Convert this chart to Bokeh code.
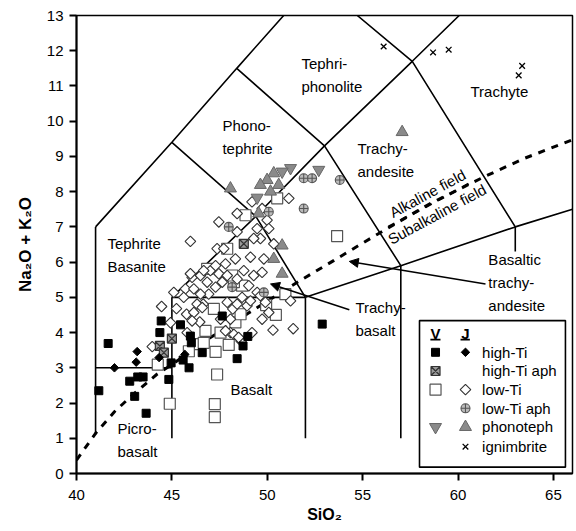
import math
from bokeh.plotting import figure
from bokeh.models import Arrow, NormalHead, Range1d, FixedTicker
from bokeh.core.properties import value
from bokeh.embed import file_html
from bokeh.resources import INLINE

FONT = "Liberation Sans"
DIA = math.pi / 4  # squares turned 45 degrees give the equal-sided diamonds of the original

# ---------------- TAS field boundaries (SiO2, Na2O+K2O) ----------------
tas_xs = [
    [41, 41], [41, 45], [45, 45], [45, 52], [52, 52],
    [52, 57, 63, 66], [57, 57], [63, 63],
    [41, 45, 48.4, 50.86], [45, 49.4, 52],
    [45, 49.4, 53, 57.6, 60.06], [48.4, 53, 57], [54.72, 57.6, 63],
]
tas_ys = [
    [1.1, 7], [3, 3], [1.0, 5], [5, 5], [1.0, 5],
    [5, 5.9, 7, 7.5], [1.0, 5.9], [6.3, 7],
    [7, 9.4, 11.5, 13], [9.4, 7.3, 5],
    [5, 7.3, 9.3, 11.7, 13], [11.5, 9.3, 5.9], [13, 11.7, 7],
]

# Alkaline / subalkaline divide
div_x = [40.0, 41.0, 42.0, 43.0, 44.2, 45.0, 47.0, 49.0, 51.7, 53.5, 55.8, 58.5, 61.4, 63.5, 66.0]
div_y = [0.38, 1.14, 1.76, 2.26, 2.81, 3.09, 3.85, 4.55, 5.47, 6.05, 6.8, 7.65, 8.43, 8.95, 9.47]

# ---------------- samples ----------------
v_hiti_x = [41.66, 41.17, 42.79, 43.21, 43.49, 43.05, 43.65, 44.37, 44.44, 44.84, 44.96, 45.45,
            45.59, 45.90, 45.97, 46.02, 46.59, 47.64, 48.73, 48.42, 48.98, 52.88]
v_hiti_y = [3.69, 2.35, 2.62, 2.74, 2.74, 2.19, 1.71, 4.00, 4.33, 2.67, 3.14, 4.22,
            3.22, 3.00, 3.90, 3.71, 3.43, 4.47, 3.62, 3.26, 3.89, 4.24]

j_hiti_x = [41.99, 43.18, 43.13, 44.33, 45.68]
j_hiti_y = [3.00, 3.46, 3.16, 3.29, 3.38]

v_hiti_aph_x = [44.37, 44.58, 45.00, 48.77]
v_hiti_aph_y = [3.62, 3.43, 3.83, 6.52]

v_loti_x = [44.26, 44.89, 47.37, 47.25, 47.25, 46.76, 47.29, 47.20, 47.55, 47.98, 48.33, 48.60,
            49.94, 50.45, 46.38, 45.89, 48.68, 48.25, 50.95, 53.66, 50.52, 48.86, 47.90, 46.85,
            48.16, 46.67]
v_loti_y = [3.09, 1.98, 2.81, 1.97, 1.60, 4.05, 3.45, 4.67, 4.00, 3.65, 4.29, 4.52,
            4.78, 4.50, 3.67, 3.47, 5.33, 5.43, 5.09, 6.74, 7.81, 7.33, 6.38, 5.81,
            5.62, 3.71]

j_loti_x = [43.97, 44.46, 44.93, 45.24, 45.77, 46.15, 46.46, 46.64, 47.55, 48.07, 48.19, 48.42,
            48.63, 48.94, 49.20, 49.73, 50.30, 51.22, 51.36, 45.80,
            45.10, 45.71, 45.62, 46.15, 46.06, 46.50, 47.02, 47.29, 46.93, 46.50, 46.06, 46.32,
            47.64, 47.46, 47.90, 48.42, 47.90, 48.07, 47.81, 48.25, 48.68, 48.50, 48.77, 49.03,
            49.47, 49.12, 49.64, 50.08, 49.90, 49.73, 49.29, 46.85, 46.59,
            49.20, 51.13, 48.42, 47.46, 45.97, 49.73, 49.99, 49.47, 49.64, 50.34, 49.12, 47.37,
            48.42, 49.82, 48.33, 47.72, 47.81, 47.29, 46.67, 45.97, 49.29, 50.08]
j_loti_y = [3.60, 4.74, 4.28, 4.68, 4.52, 4.57, 4.30, 4.81, 4.38, 4.00, 4.67, 4.81,
            3.76, 4.76, 4.00, 4.38, 4.07, 4.90, 4.11, 4.00,
            5.14, 5.24, 5.00, 5.24, 5.57, 5.62, 5.76, 5.29, 5.09, 5.09, 4.33, 4.81,
            5.43, 5.67, 5.62, 5.52, 4.86, 4.38, 4.05, 3.95, 5.00, 3.86, 5.76, 5.33,
            5.14, 4.90, 5.05, 4.57, 4.86, 5.71, 5.62, 5.43, 4.71,
            7.71, 7.81, 7.38, 7.14, 6.59, 7.52, 7.19, 6.95, 6.67, 6.52, 6.14, 6.38,
            6.86, 6.09, 6.09, 6.38, 5.95, 5.90, 5.76, 5.67, 6.67, 6.95]

j_loti_aph_x = [51.91, 52.35, 51.91, 47.98, 50.08, 53.80, 48.16, 49.82]
j_loti_aph_y = [8.38, 8.38, 7.52, 7.00, 7.43, 8.33, 5.29, 5.14]

v_phono_x = [51.22, 50.78, 49.47, 52.70]
v_phono_y = [8.67, 8.57, 7.83, 8.62]

j_phono_x = [48.07, 50.34, 49.99, 49.64, 50.17, 50.60, 49.55, 50.78, 50.34, 50.78, 57.07]
j_phono_y = [8.09, 8.52, 8.33, 8.19, 8.00, 8.19, 7.38, 6.47, 6.09, 5.67, 9.69]

ign_x = [56.10, 58.69, 59.51, 63.36, 63.18]
ign_y = [12.12, 11.95, 12.03, 11.57, 11.30]

# ---------------- field names ----------------
field_names = ["Tephri-\nphonolite", "Trachyte", "Phono-\ntephrite", "Trachy-\nandesite",
               "Tephrite\nBasanite", "Basalt", "Picro-\nbasalt", "Trachy-\nbasalt",
               "Basaltic\ntrachy-\nandesite"]
field_x = [51.79, 60.65, 47.65, 54.73, 41.62, 48.07, 42.15, 54.62, 61.59]
field_y = [11.32, 10.84, 9.55, 8.90, 6.21, 2.38, 0.95, 4.38, 5.41]

legend_labels = ["high-Ti", "high-Ti aph", "low-Ti", "low-Ti aph", "phonoteph", "ignimbrite"]

# ---------------- figure ----------------
p = figure(width=576, height=531, x_range=Range1d(40, 66), y_range=Range1d(0, 13),
           output_backend="svg", toolbar_location=None,
           min_border_left=76, min_border_right=4, min_border_top=15, min_border_bottom=58)
p.grid.visible = False
p.background_fill_color = "white"
p.border_fill_color = "white"
p.outline_line_color = "black"
p.outline_line_width = 1.5

p.xaxis.ticker = FixedTicker(ticks=[40, 45, 50, 55, 60, 65])
p.yaxis.ticker = FixedTicker(ticks=list(range(0, 14)))
for ax in (p.xaxis[0], p.yaxis[0]):
    ax.major_tick_in = 0
    ax.major_tick_out = 7
    ax.minor_tick_in = 0
    ax.minor_tick_out = 0
    ax.axis_line_width = 2
    ax.axis_line_color = "black"
    ax.major_tick_line_width = 2
    ax.major_tick_line_color = "black"
    ax.major_label_text_font = FONT
    ax.major_label_text_font_size = "15px"
    ax.major_label_text_color = "black"
    ax.axis_label_text_font = FONT
    ax.axis_label_text_font_style = "bold"
    ax.axis_label_text_color = "black"
p.xaxis[0].major_label_standoff = 9
p.yaxis[0].major_label_standoff = 6
p.xaxis[0].axis_label = "SiO₂"
p.xaxis[0].axis_label_text_font_size = "16px"
p.xaxis[0].axis_label_standoff = 3
p.yaxis[0].axis_label = "Na₂O + K₂O"
p.yaxis[0].axis_label_text_font_size = "17px"
p.yaxis[0].axis_label_standoff = 9

# boundaries
p.multi_line(tas_xs, tas_ys, line_color="black", line_width=1.6)
p.line(div_x, div_y, line_color="black", line_width=3, line_dash="7 7")

# alkaline / subalkaline labels
ang = math.radians(28.5)
p.text(x=[58.40], y=[7.95], text=["Alkaline field"], angle=ang, text_font=value(FONT),
       text_font_size="15px", text_align="center", text_baseline="middle", text_color="black")
p.text(x=[58.90], y=[7.36], text=["Subalkaline field"], angle=ang, text_font=value(FONT),
       text_font_size="15px", text_align="center", text_baseline="middle", text_color="black")
p.line([56.35, 60.8], [7.0, 8.29], line_color="black", line_width=2.5, line_dash="7 7")

# field names
p.text(x=field_x, y=field_y, text=field_names, text_font=value(FONT), text_font_size="15px",
       text_align="left", text_baseline="middle", text_line_height=1.35, text_color="black")

# arrows
p.add_layout(Arrow(end=NormalHead(size=9, fill_color="black", line_color="black"),
                   x_start=61.44, y_start=5.38, x_end=54.30, y_end=6.02,
                   line_color="black", line_width=1.5))
p.add_layout(Arrow(end=NormalHead(size=9, fill_color="black", line_color="black"),
                   x_start=54.30, y_start=4.65, x_end=50.17, y_end=5.38,
                   line_color="black", line_width=1.5))

# samples
p.scatter(v_loti_x, v_loti_y, marker="square", size=11, fill_color="white", line_color="#555555", line_width=1.2)
p.scatter(j_loti_x, j_loti_y, marker="square", angle=DIA, size=7.5, fill_color="white", line_color="#333333", line_width=1.1)
p.scatter(j_loti_aph_x, j_loti_aph_y, marker="circle_cross", size=9, fill_color="#bbbbbb", line_color="#555555", line_width=1.1)
p.scatter(v_hiti_aph_x, v_hiti_aph_y, marker="square_x", size=9, fill_color="#999999", line_color="#333333", line_width=1.2)
p.scatter(v_hiti_x, v_hiti_y, marker="square", size=8, fill_color="black", line_color="black")
p.scatter(j_hiti_x, j_hiti_y, marker="square", angle=DIA, size=6, fill_color="black", line_color="black")
p.scatter(j_phono_x, j_phono_y, marker="triangle", size=12, fill_color="#8a8a8a", line_color="#666666")
p.scatter(v_phono_x, v_phono_y, marker="inverted_triangle", size=12, fill_color="#8a8a8a", line_color="#666666")
p.scatter(ign_x, ign_y, marker="x", size=8, line_color="black", line_width=1.3)

# ---------------- legend (drawn inside the frame) ----------------
p.quad(left=[57.98], right=[65.63], bottom=[0.18], top=[4.34], fill_color="white",
       line_color="black", line_width=1.6)
row_y = [3.44, 2.91, 2.38, 1.85, 1.32, 0.76]
vx, jx, tx = 58.82, 60.39, 61.26
p.text(x=[vx, jx], y=[3.98, 3.98], text=["V", "J"], text_font=value(FONT), text_font_size="15px",
       text_font_style="bold", text_align="center", text_baseline="middle", text_color="black")
p.multi_line([[58.55, 59.08], [60.13, 60.62]], [[3.80, 3.80], [3.80, 3.80]], line_color="black", line_width=1.6)
p.text(x=[tx] * len(legend_labels), y=row_y, text=legend_labels, text_font=value(FONT),
       text_font_size="15px", text_align="left", text_baseline="middle", text_color="black")
p.scatter([vx], [row_y[0]], marker="square", size=8, fill_color="black", line_color="black")
p.scatter([jx], [row_y[0]], marker="square", angle=DIA, size=6, fill_color="black", line_color="black")
p.scatter([vx], [row_y[1]], marker="square_x", size=9, fill_color="#999999", line_color="#333333", line_width=1.2)
p.scatter([vx], [row_y[2]], marker="square", size=11, fill_color="white", line_color="#555555", line_width=1.2)
p.scatter([jx], [row_y[2]], marker="square", angle=DIA, size=7.5, fill_color="white", line_color="#333333", line_width=1.1)
p.scatter([jx], [row_y[3]], marker="circle_cross", size=9, fill_color="#bbbbbb", line_color="#555555", line_width=1.1)
p.scatter([vx], [row_y[4]], marker="inverted_triangle", size=12, fill_color="#8a8a8a", line_color="#666666")
p.scatter([jx], [row_y[4]], marker="triangle", size=12, fill_color="#8a8a8a", line_color="#666666")
p.scatter([jx], [row_y[5]], marker="x", size=8, line_color="black", line_width=1.3)

open("out.html", "w").write(file_html(p, INLINE))
